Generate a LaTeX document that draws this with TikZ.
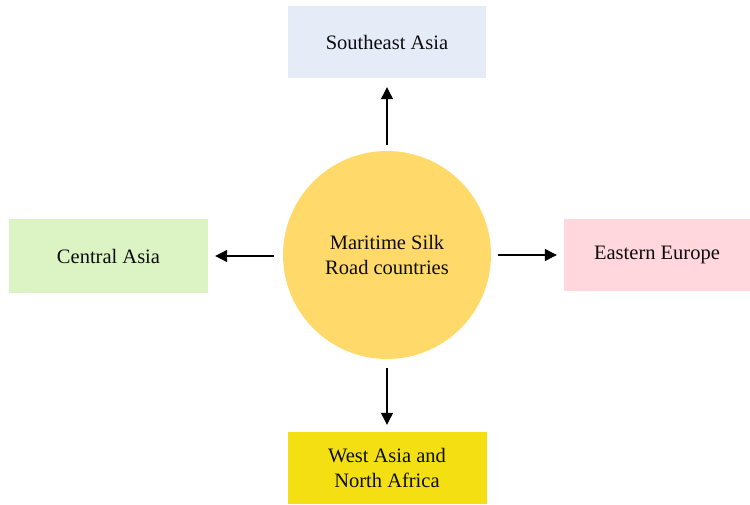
\documentclass[tikz,border=0pt]{standalone}
\usepackage{fontspec}
\setmainfont{Liberation Serif}
\usetikzlibrary{arrows.meta}
\definecolor{seablue}{HTML}{E6EBF8}
\definecolor{cagreen}{HTML}{DCF3C4}
\definecolor{eepink}{HTML}{FFD7DC}
\definecolor{wayellow}{HTML}{F4E012}
\definecolor{hubgold}{HTML}{FFDA6A}
\begin{document}
\begin{tikzpicture}[x=1pt,y=-1pt,
  region/.style={minimum width=198pt, minimum height=72pt, inner sep=0pt,
    align=center, font=\fontsize{20.5}{25}\selectfont, text=black!95},
  hub/.style={circle, fill=hubgold, minimum size=208pt, inner sep=0pt,
    align=center, font=\fontsize{20.5}{25}\selectfont, text=black!95},
  link/.style={-{Triangle[length=12pt,width=12pt]}, line width=1.2pt}]
\useasboundingbox (0,0) rectangle (750,504);
\node[hub] (c) at (387,255) {Maritime Silk\\Road countries};
\node[region, fill=seablue] (se) at (387,42) {Southeast Asia};
\node[region, fill=cagreen, minimum width=199pt, minimum height=74pt] (ca) at (108.5,256) {Central Asia};
\node[region, fill=eepink, minimum width=186pt] (ee) at (657,255) {Eastern Europe};
\node[region, fill=wayellow, minimum width=199pt] (wa) at (387,468) {West Asia and\\North Africa};
\draw[link, shorten <=6pt, shorten >=9pt] (c.north) -- (se.south);
\draw[link, shorten <=9pt, shorten >=7pt] (c.south) -- (wa.north);
\draw[link, shorten >=7pt] (c.west |- ca) ++(-9pt,0) coordinate (lw) -- (ca.east);
\draw[link, shorten <=7pt, shorten >=7pt] (c.east) -- (ee.west);
\end{tikzpicture}
\end{document}
